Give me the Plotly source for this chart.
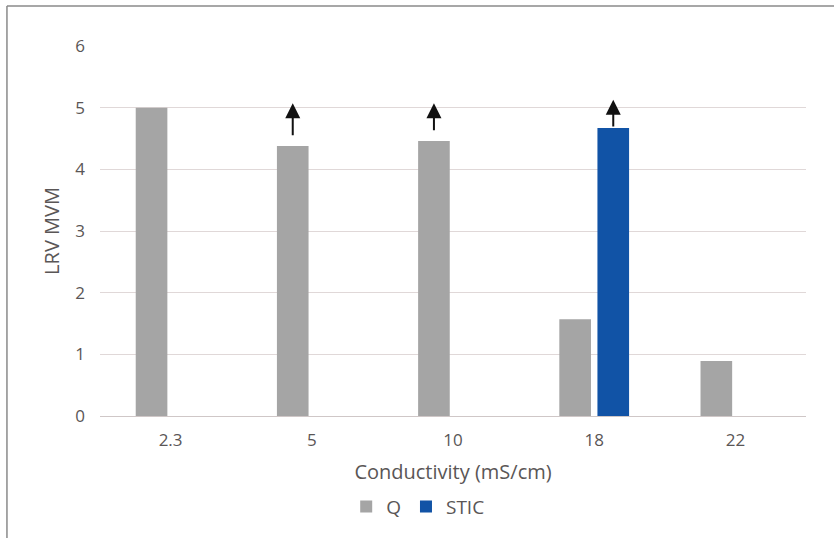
import plotly.graph_objects as go

categories = ["2.3", "5", "10", "18", "22"]
q_values = [5.0, 4.38, 4.46, 1.57, 0.89]
stic_values = [None, None, None, 4.67, None]
# series marked with an upward arrow (result is a lower bound)
q_arrows = [False, True, True, False, False]
stic_arrows = [False, False, False, True, False]
y_ticks = [0, 1, 2, 3, 4, 5, 6]

GRAY = "#a5a5a5"
BLUE = "#1153a6"
TXT = "#5a5656"
FONT = "'Open Sans', 'Noto Sans', sans-serif"

BARGAP = 0.46
slot = (1 - BARGAP) / 2
q_shift, s_shift = -slot / 2, slot / 2

fig = go.Figure()
fig.add_trace(go.Bar(x=categories, y=q_values, name="Q", marker_color=GRAY,
                     marker_line_width=0))
fig.add_trace(go.Bar(x=categories, y=stic_values, name="STIC", marker_color=BLUE,
                     marker_line_width=0))

ann = []
for series, shift, arrows, gap, tip in ((q_values, q_shift, q_arrows, 0.15, 5.07),
                                        (stic_values, s_shift, stic_arrows, 0.0, 5.13)):
    for i, (v, a) in enumerate(zip(series, arrows)):
        if a and v is not None:
            ann.append(dict(x=i + shift, y=tip, ax=i + shift, ay=v + gap,
                            xref="x", yref="y", axref="x", ayref="y",
                            showarrow=True, arrowhead=2, arrowsize=1.5,
                            arrowwidth=2, arrowcolor="#111111", text=""))

fig.update_layout(
    width=834, height=538,
    margin=dict(l=100, r=28, t=45.5, b=117),
    paper_bgcolor="white", plot_bgcolor="white",
    font=dict(family=FONT, color=TXT, size=16),
    barmode="group", bargap=BARGAP, bargroupgap=0.17,
    showlegend=True,
    legend=dict(orientation="h", x=0.45, xanchor="center", y=-0.245,
                yanchor="middle", font=dict(size=19, color=TXT),
                itemwidth=30, tracegroupgap=0, bgcolor="rgba(0,0,0,0)"),
    annotations=ann,
    shapes=[
        dict(type="line", xref="paper", yref="paper", x0=-0.1318, x1=-0.1318,
             y0=1.108, y1=-0.5, line=dict(color="#8a8a8a", width=1.5)),
        dict(type="line", xref="paper", yref="paper", x0=-0.1318, x1=1.06,
             y0=1.108, y1=1.108, line=dict(color="#8a8a8a", width=1.5)),
    ],
)
fig.update_xaxes(type="category", showgrid=False, zeroline=False, showline=False,
                 ticks="", ticklabelstandoff=12, automargin=False,
                 tickfont=dict(size=17, color=TXT),
                 title=dict(text="Conductivity (mS/cm)", font=dict(size=20, color=TXT),
                            standoff=14))
fig.update_yaxes(range=[0, 6], tickvals=y_ticks, showgrid=True,
                 gridcolor="#e0d8d8", gridwidth=1, zeroline=True,
                 zerolinecolor="#cfc7c7", zerolinewidth=1.2, showline=False,
                 ticks="", ticklabelstandoff=14, automargin=False,
                 tickfont=dict(size=17, color=TXT),
                 title=dict(text="LRV MVM", font=dict(size=20, color=TXT), standoff=10))

fig.write_html("out.html", config={"displayModeBar": False},
               post_script="document.body.style.margin='0';")
